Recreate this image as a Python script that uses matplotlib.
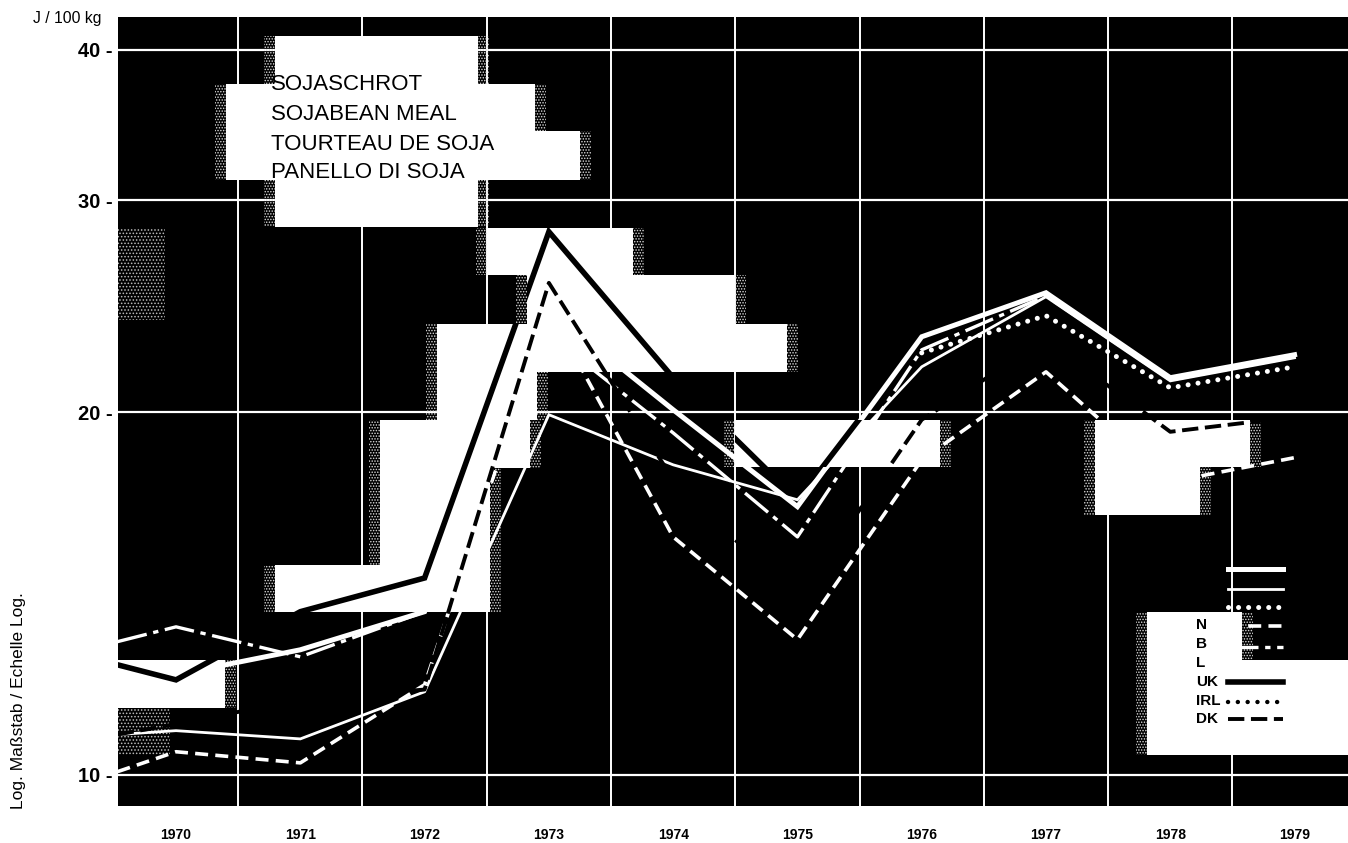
import numpy as np
import matplotlib
matplotlib.use("Agg")
import matplotlib.pyplot as plt
from matplotlib.patches import Rectangle
from matplotlib.path import Path
from matplotlib.transforms import Affine2D

plt.rcParams['font.family'] = ['Liberation Sans', 'DejaVu Sans']
plt.rcParams['hatch.linewidth'] = 0.7

W, H = 1348, 843

# first entry is where the curves are cut by the left edge of the panel
years = [1969.53, 1970, 1971, 1972, 1973, 1974, 1975, 1976, 1977, 1978, 1979]
year_labels = [1970, 1971, 1972, 1973, 1974, 1975, 1976, 1977, 1978, 1979]
y_ticks = [10, 20, 30, 40]

# white curves (only show on the black ground)
d_white = [11.88, 12.11, 12.70, 13.66, 24.33, 20.10, 16.70, 23.11, 25.14, 21.37, 22.33]
f_white = [10.80, 10.88, 10.71, 11.72, 19.91, 18.09, 16.92, 21.82, 24.95, 21.24, 22.20]
i_white = [None, None, None, None, None, None, None, 22.41, 24.06, 20.96, 21.82]
n_white = [12.90, 13.27, 12.53, 13.66, 23.20, 19.23, 15.76, 22.54, 24.99, 21.28, 22.24]
b_white = [10.06, 10.45, 10.23, 11.88, 24.38, 15.76, 12.95, 18.26, 21.61, 17.51, 18.34]

# black curves (only show on the white blocks)
uk_black = [12.34, 11.99, 13.66, 14.57, 28.25, 21.37, 16.92, 23.07, 25.09, 21.33, 22.28]
dk_black = [10.80, 11.02, 11.54, 11.77, 25.62, 17.58, 13.97, 19.72, 22.98, 19.27, 19.83]

title_lines = ["SOJASCHROT", "SOJABEAN MEAL", "TOURTEAU DE SOJA", "PANELLO DI SOJA"]
legend_labels = ["N", "B", "L", "UK", "IRL", "DK"]

# white masks behind the curves, in image pixels: x0, x1, y0, y1
white_blocks = [
    (275, 478, 36, 227), (226, 535, 84, 180), (535, 580, 131, 180),
    (487, 633, 228, 275), (527, 735, 275, 324), (437, 787, 324, 372),
    (437, 537, 372, 420), (380, 530, 420, 468), (380, 490, 468, 612),
    (275, 480, 565, 612), (735, 940, 420, 467), (1095, 1250, 420, 467),
    (1095, 1200, 467, 515), (1147, 1242, 612, 755), (1242, 1348, 660, 755),
    (118, 225, 660, 708),
]
grey_blocks = [(118, 165, 228, 320), (118, 170, 708, 755)]

to_px = Affine2D().scale(1, -1).translate(0, H)


def px_rect(x0, x1, y0, y1, **kw):
    return Rectangle((x0, y0), x1 - x0, y1 - y0, transform=to_px, **kw)


def to_float(vals):
    return np.array([np.nan if v is None else v for v in vals], dtype=float)


fig = plt.figure(figsize=(W / 100, H / 100), dpi=100, facecolor='white')
ax = fig.add_axes([118 / W, 1 - 806 / H, 1 - 118 / W, (806 - 17) / H], facecolor='black')
ax.set_yscale('log')
ax.set_ylim(9.42, 42.6)
ax.set_xlim(1969.533, 1979.43)

# grid
for v in y_ticks:
    ax.axhline(v, color='white', lw=1.6, zorder=1)
for yr in year_labels[:-1]:
    ax.axvline(yr + 0.5, color='white', lw=1.4, zorder=1)

# soft speckled edges, then the white masks
for x0, x1, y0, y1 in white_blocks:
    for sx in (x0 - 11, x1):
        if sx < 118:
            continue
        ax.add_patch(px_rect(sx, sx + 11, y0, y1, facecolor='none',
                             edgecolor='#dddddd', hatch='......', lw=0, zorder=2))
for x0, x1, y0, y1 in grey_blocks:
    ax.add_patch(px_rect(x0, x1, y0, y1, facecolor='none', edgecolor='#bbbbbb',
                         hatch='.....', lw=0, zorder=2))
for x0, x1, y0, y1 in white_blocks:
    ax.add_patch(px_rect(x0, x1, y0, y1, facecolor='white', lw=0, zorder=3))

block_path = Path.make_compound_path(
    *[Path([(x0, y0), (x1, y0), (x1, y1), (x0, y1), (x0, y0)], closed=True) for x0, x1, y0, y1 in white_blocks]
)

# curves
style_d = dict(color='white', lw=3.6)
style_f = dict(color='white', lw=2.0)
style_i = dict(color='white', lw=3.6, dashes=(0.01, 2.0), dash_capstyle='round')
style_n = dict(color='white', lw=2.4, dashes=(9, 2, 1.6, 2))
style_b = dict(color='white', lw=2.6, dashes=(3.6, 2))
style_uk = dict(color='black', lw=4.0)
style_dk = dict(color='black', lw=2.8, dashes=(4.2, 1.7))

ax.plot(years, to_float(d_white), zorder=4, solid_joinstyle='miter', **style_d)
ax.plot(years, to_float(f_white), zorder=4, solid_joinstyle='miter', **style_f)
ax.plot(years, to_float(n_white), zorder=4, **style_n)
ax.plot(years, to_float(b_white), zorder=4, **style_b)
ax.plot(years, to_float(i_white), zorder=4, **style_i)
# UK is only printed on the white masks, elsewhere it would cut into the white D line
uk_line, = ax.plot(years, to_float(uk_black), zorder=5, solid_joinstyle='miter', **style_uk)
uk_line.set_clip_path(block_path, to_px)
ax.plot(years, to_float(dk_black), zorder=5, **style_dk)

# legend samples, the labels of the white ones are black on black in the print
samples = [(569, style_d), (589, style_f), (607, style_i), (626, style_b), (647, style_n),
           (682, style_uk), (702, dict(color='black', lw=3.2, dashes=(0.01, 2.2), dash_capstyle='round')),
           (719, style_dk)]
for py, st in samples:
    ax.plot([1228, 1283], [py, py], transform=to_px, zorder=6, **st)
for lab, py in zip(legend_labels, [625, 644, 663, 682, 701, 719]):
    fig.text(1196 / W, 1 - py / H, lab, fontsize=11, fontweight='bold', va='center', ha='left', zorder=7)

# axes
ax.set_xticks(year_labels)
ax.set_xticklabels(year_labels, fontsize=10, fontweight='bold')
ax.set_yticks(y_ticks)
ax.set_yticklabels([f"{v} -" for v in y_ticks], fontsize=14.5, fontweight='bold')
ax.minorticks_off()
ax.tick_params(axis='x', length=0, pad=16)
ax.tick_params(axis='y', length=0, pad=4)
for s in ax.spines.values():
    s.set_visible(False)

for lab, py in zip(title_lines, [84, 115, 144, 173]):
    fig.text(271 / W, 1 - py / H, lab, fontsize=16, va='center', ha='left', color='black', zorder=8)

fig.text(33 / W, 1 - 18 / H, "J / 100 kg", fontsize=11.3, va='center', ha='left')
fig.text(19 / W, 1 - 701 / H, "Log. Maßstab / Echelle Log.", fontsize=12.5, rotation=90,
         va='center', ha='center')

fig.savefig("out.png", dpi=100)
